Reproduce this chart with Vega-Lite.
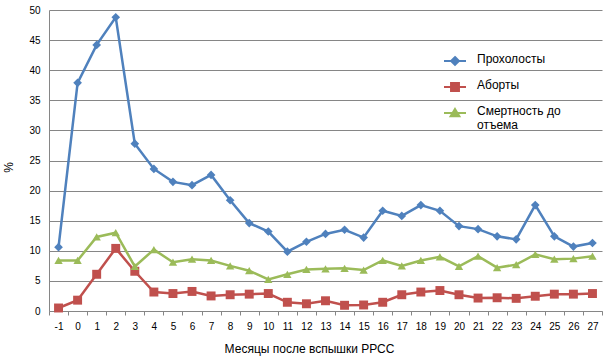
{
  "$schema": "https://vega.github.io/schema/vega-lite/v6.json",
  "width": 553,
  "height": 301,
  "autosize": "none",
  "padding": {"left": 49, "top": 10, "right": 8, "bottom": 49},
  "background": "white",
  "config": {
    "font": "Liberation Sans",
    "view": {"stroke": null},
    "axis": {"labelFont": "Liberation Sans", "titleFont": "Liberation Sans", "labelColor": "#000", "titleColor": "#000", "titleFontWeight": "normal"}
  },
  "data": {
    "values": [
      {"m": -1, "s": "Прохолосты", "v": 10.6}, {"m": 0, "s": "Прохолосты", "v": 37.9}, {"m": 1, "s": "Прохолосты", "v": 44.2}, {"m": 2, "s": "Прохолосты", "v": 48.8}, {"m": 3, "s": "Прохолосты", "v": 27.8}, {"m": 4, "s": "Прохолосты", "v": 23.6}, {"m": 5, "s": "Прохолосты", "v": 21.45}, {"m": 6, "s": "Прохолосты", "v": 20.9}, {"m": 7, "s": "Прохолосты", "v": 22.6}, {"m": 8, "s": "Прохолосты", "v": 18.4}, {"m": 9, "s": "Прохолосты", "v": 14.6}, {"m": 10, "s": "Прохолосты", "v": 13.2}, {"m": 11, "s": "Прохолосты", "v": 9.85}, {"m": 12, "s": "Прохолосты", "v": 11.5}, {"m": 13, "s": "Прохолосты", "v": 12.8}, {"m": 14, "s": "Прохолосты", "v": 13.5}, {"m": 15, "s": "Прохолосты", "v": 12.2}, {"m": 16, "s": "Прохолосты", "v": 16.65}, {"m": 17, "s": "Прохолосты", "v": 15.8}, {"m": 18, "s": "Прохолосты", "v": 17.6}, {"m": 19, "s": "Прохолосты", "v": 16.65}, {"m": 20, "s": "Прохолосты", "v": 14.1}, {"m": 21, "s": "Прохолосты", "v": 13.6}, {"m": 22, "s": "Прохолосты", "v": 12.4}, {"m": 23, "s": "Прохолосты", "v": 11.9}, {"m": 24, "s": "Прохолосты", "v": 17.6}, {"m": 25, "s": "Прохолосты", "v": 12.4}, {"m": 26, "s": "Прохолосты", "v": 10.7}, {"m": 27, "s": "Прохолосты", "v": 11.3},
      {"m": -1, "s": "Аборты", "v": 0.5}, {"m": 0, "s": "Аборты", "v": 1.8}, {"m": 1, "s": "Аборты", "v": 6.1}, {"m": 2, "s": "Аборты", "v": 10.4}, {"m": 3, "s": "Аборты", "v": 6.6}, {"m": 4, "s": "Аборты", "v": 3.15}, {"m": 5, "s": "Аборты", "v": 2.9}, {"m": 6, "s": "Аборты", "v": 3.25}, {"m": 7, "s": "Аборты", "v": 2.5}, {"m": 8, "s": "Аборты", "v": 2.7}, {"m": 9, "s": "Аборты", "v": 2.8}, {"m": 10, "s": "Аборты", "v": 2.9}, {"m": 11, "s": "Аборты", "v": 1.45}, {"m": 12, "s": "Аборты", "v": 1.2}, {"m": 13, "s": "Аборты", "v": 1.7}, {"m": 14, "s": "Аборты", "v": 0.95}, {"m": 15, "s": "Аборты", "v": 1.0}, {"m": 16, "s": "Аборты", "v": 1.45}, {"m": 17, "s": "Аборты", "v": 2.7}, {"m": 18, "s": "Аборты", "v": 3.15}, {"m": 19, "s": "Аборты", "v": 3.4}, {"m": 20, "s": "Аборты", "v": 2.7}, {"m": 21, "s": "Аборты", "v": 2.15}, {"m": 22, "s": "Аборты", "v": 2.2}, {"m": 23, "s": "Аборты", "v": 2.1}, {"m": 24, "s": "Аборты", "v": 2.45}, {"m": 25, "s": "Аборты", "v": 2.8}, {"m": 26, "s": "Аборты", "v": 2.8}, {"m": 27, "s": "Аборты", "v": 2.9},
      {"m": -1, "s": "Смертность до отъема", "v": 8.4}, {"m": 0, "s": "Смертность до отъема", "v": 8.4}, {"m": 1, "s": "Смертность до отъема", "v": 12.3}, {"m": 2, "s": "Смертность до отъема", "v": 13.0}, {"m": 3, "s": "Смертность до отъема", "v": 7.4}, {"m": 4, "s": "Смертность до отъема", "v": 10.2}, {"m": 5, "s": "Смертность до отъема", "v": 8.1}, {"m": 6, "s": "Смертность до отъема", "v": 8.6}, {"m": 7, "s": "Смертность до отъема", "v": 8.4}, {"m": 8, "s": "Смертность до отъема", "v": 7.5}, {"m": 9, "s": "Смертность до отъема", "v": 6.7}, {"m": 10, "s": "Смертность до отъема", "v": 5.25}, {"m": 11, "s": "Смертность до отъема", "v": 6.1}, {"m": 12, "s": "Смертность до отъема", "v": 6.9}, {"m": 13, "s": "Смертность до отъема", "v": 7.0}, {"m": 14, "s": "Смертность до отъема", "v": 7.1}, {"m": 15, "s": "Смертность до отъема", "v": 6.8}, {"m": 16, "s": "Смертность до отъема", "v": 8.4}, {"m": 17, "s": "Смертность до отъема", "v": 7.5}, {"m": 18, "s": "Смертность до отъема", "v": 8.4}, {"m": 19, "s": "Смертность до отъема", "v": 9.0}, {"m": 20, "s": "Смертность до отъема", "v": 7.4}, {"m": 21, "s": "Смертность до отъема", "v": 9.1}, {"m": 22, "s": "Смертность до отъема", "v": 7.2}, {"m": 23, "s": "Смертность до отъема", "v": 7.7}, {"m": 24, "s": "Смертность до отъема", "v": 9.4}, {"m": 25, "s": "Смертность до отъема", "v": 8.6}, {"m": 26, "s": "Смертность до отъема", "v": 8.7}, {"m": 27, "s": "Смертность до отъема", "v": 9.1}
    ]
  },
  "encoding": {
    "x": {
      "field": "m", "type": "ordinal",
      "scale": {"type": "band", "paddingInner": 0, "paddingOuter": 0, "domain": [-1,0,1,2,3,4,5,6,7,8,9,10,11,12,13,14,15,16,17,18,19,20,21,22,23,24,25,26,27]},
      "axis": {"title": "Месяцы после вспышки РРСС", "titleFontSize": 12, "titlePadding": 12, "titleX": 260, "labelAngle": 0, "labelFontSize": 10, "labelPadding": 6, "tickBand": "extent", "tickSize": 4, "tickColor": "#868686", "domainColor": "#868686", "grid": false}
    },
    "y": {
      "field": "v", "type": "quantitative",
      "scale": {"domain": [0, 50], "nice": false},
      "axis": {"title": "%", "titleFontSize": 12, "titleX": -34, "titleY": 157, "titleAngle": -90, "values": [0,5,10,15,20,25,30,35,40,45,50], "labelFontSize": 10, "labelPadding": 9, "ticks": false, "grid": true, "gridColor": "#868686", "gridWidth": 1, "domainColor": "#868686"}
    }
  },
  "layer": [
    {
      "mark": {"type": "line", "strokeWidth": 2.5},
      "encoding": {
        "color": {
          "field": "s", "type": "nominal",
          "scale": {"domain": ["Прохолосты", "Аборты", "Смертность до отъема"], "range": ["#4F81BD", "#C0504D", "#9BBB59"]},
          "legend": {
            "title": null, "orient": "none", "legendX": 394, "legendY": 39,
            "labelFontSize": 12, "labelColor": "#000", "labelFont": "Liberation Sans",
            "symbolSize": 484, "symbolStrokeWidth": 2, "rowPadding": 6, "labelOffset": 10,
            "labelExpr": "datum.value == 'Смертность до отъема' ? ['Смертность до', 'отъема'] : datum.label",
            "encode": {
              "symbols": {"update": {
                "shape": {"signal": "datum.value == 'Прохолосты' ? 'M-1,0H1M0,-0.36L0.36,0L0,0.36L-0.36,0Z' : datum.value == 'Аборты' ? 'M-1,0H1M-0.36,-0.36H0.36V0.36H-0.36Z' : 'M-1,0H1M0,-0.36L0.4,0.3H-0.4Z'"},
                "size": {"value": 484},
                "fill": {"signal": "scale('color', datum.value)"},
                "strokeWidth": {"value": 2}
              }},
              "labels": {"update": {"baseline": {"value": "top"}, "dy": {"value": -7}}}
            }
          }
        }
      }
    },
    {
      "mark": {"type": "point", "filled": true, "opacity": 1, "strokeWidth": 0},
      "encoding": {
        "fill": {"field": "s", "type": "nominal", "scale": {"domain": ["Аборты", "Прохолосты", "Смертность до отъема"], "range": ["#C0504D", "#4F81BD", "#9BBB59"]}, "legend": null},
        "shape": {"field": "s", "type": "nominal", "scale": {"domain": ["Аборты", "Прохолосты", "Смертность до отъема"], "range": ["square", "diamond", "triangle-up"]}, "legend": null},
        "size": {"field": "s", "type": "nominal", "scale": {"domain": ["Аборты", "Прохолосты", "Смертность до отъема"], "range": [80, 70, 90]}, "legend": null}
      }
    }
  ]
}
